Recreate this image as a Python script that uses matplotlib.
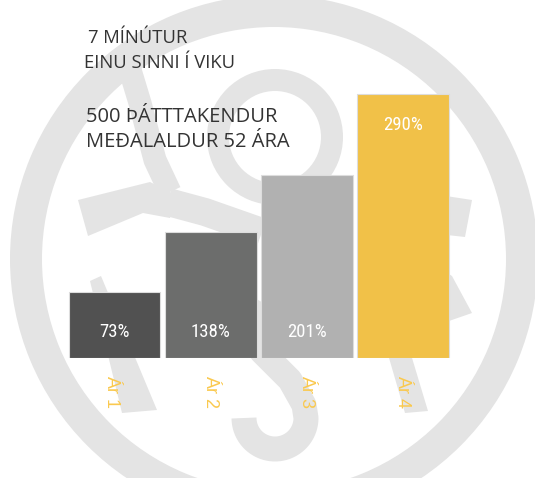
import numpy as np
import matplotlib
matplotlib.use("Agg")
import matplotlib.pyplot as plt
from matplotlib.patches import Wedge, Polygon
from matplotlib import font_manager

# data
years = ['Ár 1', 'Ár 2', 'Ár 3', 'Ár 4']
values = [73, 138, 201, 290]
bar_colors = ['#515151', '#6c6d6c', '#b1b1b1', '#f1c148']
header_1 = ['7 MÍNÚTUR', 'EINU SINNI Í VIKU']
header_2 = ['500 ÞÁTTTAKENDUR', 'MEÐALALDUR 52 ÁRA']

W, H = 535, 478
fig = plt.figure(figsize=(W / 100, H / 100), dpi=100)
fig.patch.set_facecolor('white')

# background logo (watermark), drawn in pixel coordinates
bg = fig.add_axes([0, 0, 1, 1], zorder=0)
bg.set_xlim(0, W)
bg.set_ylim(H, 0)
bg.axis('off')
wm = '#e4e4e4'


def px(w):
    return w * 72 / 100


bg.add_patch(Wedge((274, 259), 264, 0, 360, width=32, color=wm, lw=0))
bg.add_patch(Wedge((275, 137), 68, 0, 360, width=22, color=wm, lw=0))

# left branch, arm and trunk
bg.plot([124, 140, 155, 170], [50, 103, 160, 192], color=wm, lw=px(23),
        solid_capstyle='butt', solid_joinstyle='round')
bg.add_patch(Polygon([(78, 200), (150, 182), (178, 196), (170, 218),
                      (143, 213), (88, 236)], color=wm, lw=0))
bg.plot([168, 205, 262], [202, 212, 232], color=wm, lw=px(28),
        solid_capstyle='butt', solid_joinstyle='round')
# right arm
bg.add_patch(Polygon([(420, 192), (472, 200), (465, 237), (420, 232)],
                     color=wm, lw=0))
# legs
bg.add_patch(Polygon([(90, 281), (101, 276), (157, 410), (122, 413)],
                     color=wm, lw=0))
bg.add_patch(Polygon([(430, 262), (452, 276), (472, 313), (449, 321),
                      (425, 320)], color=wm, lw=0))
bg.add_patch(Polygon([(378, 320), (400, 318), (428, 411), (405, 413)],
                     color=wm, lw=0))
# S shape
t = np.linspace(0, np.pi, 40)
sx = list(np.array([245, 262, 290, 304])) + list(275 + 31 * np.cos(t))
sy = list(np.array([330, 352, 380, 405])) + list(418 + 31 * np.sin(t))
bg.plot(sx, sy, color=wm, lw=px(25), solid_capstyle='butt',
        solid_joinstyle='round')
bg.plot([230, 300], [300, 340], color=wm, lw=px(28), solid_capstyle='butt')

# bars
ax = fig.add_axes([66.4 / W, 120 / H, 384.7 / W, 273 / H], zorder=1)
ax.patch.set_alpha(0)
x = np.arange(len(years))
ax.bar(x, values, width=0.955, color=bar_colors, edgecolor='#dddddd',
       linewidth=0.8)
ax.set_xlim(-0.5, 3.5)
ax.set_ylim(0, 300)
ax.axis('off')

installed = {f.name for f in font_manager.fontManager.ttflist}
narrow_names = ['Liberation Sans Narrow', 'DejaVu Sans Condensed',
                'Roboto Condensed', 'Open Sans Condensed']
narrow = [n for n in narrow_names if n in installed]
if narrow:
    val_font, val_size = narrow[:1] + ['DejaVu Sans'], 13.5
else:
    val_font, val_size = ['Liberation Sans', 'DejaVu Sans'], 11.5

for i, v in enumerate(values):
    y = v - 34 if v == max(values) else 29
    ax.text(i, y, f'{v}%', ha='center', va='center', color='white',
            fontsize=val_size, family=val_font)
    ax.annotate(years[i], xy=(i, 0), xytext=(-2 if i == 0 else 0, -12),
                textcoords='offset points', rotation=-90, ha='center',
                va='top', color='#fac94e', fontsize=13,
                family=['Liberation Sans', 'DejaVu Sans'])

# header text
title_font = ['Open Sans', 'DejaVu Sans']
fig.text(88 / W, 1 - 43.3 / H, header_1[0], fontsize=13.3, color='#333333',
         family=title_font, va='baseline')
fig.text(84.5 / W, 1 - 67.7 / H, header_1[1], fontsize=13.3, color='#333333',
         family=title_font, va='baseline')
fig.text(86 / W, 1 - 121.7 / H, header_2[0], fontsize=14.5, color='#333333',
         family=title_font, va='baseline')
fig.text(86 / W, 1 - 147.3 / H, header_2[1], fontsize=14.5, color='#333333',
         family=title_font, va='baseline')

fig.savefig('out.png', dpi=100)
